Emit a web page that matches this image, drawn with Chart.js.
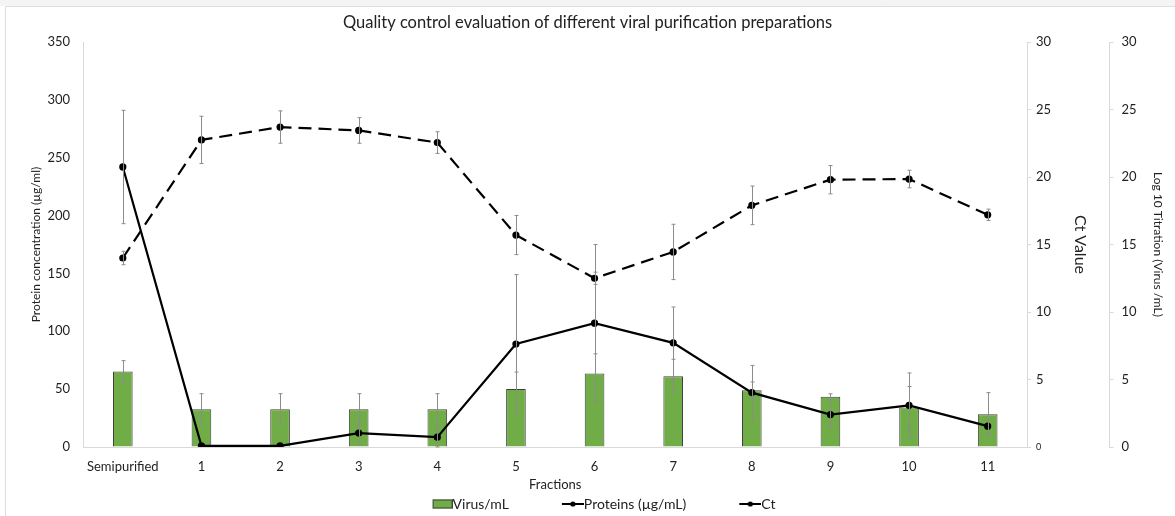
<!DOCTYPE html>
<html>
<head>
<meta charset="utf-8">
<script src="https://cdn.jsdelivr.net/npm/chart.js@4.4.0/dist/chart.umd.min.js"></script>
<style>
    html, body { margin: 0; padding: 0; background: #fff; }
    canvas { display: block; }
</style>
</head>
<body>
<canvas id="grafico" width="1175" height="516"></canvas>
<script>
var fracciones = ['Semipurified', '1', '2', '3', '4', '5', '6', '7', '8', '9', '10', '11'];

// Log 10 titration (Virus/mL) - barras
var virus = [5.6, 2.8, 2.8, 2.8, 2.8, 4.3, 5.45, 5.25, 4.2, 3.72, 2.93, 2.43];
var virusErr = [0.8, 1.15, 1.15, 1.15, 1.15, 1.25, 1.45, 1.25, 0.62, 0.22, 1.55, 1.6];

// Proteinas (ug/mL)
var proteinas = [242, 1, 1, 12, 8.5, 89, 107, 90, 47, 28, 36, 18];
var proteinasErr = [49, 0, 0, 9.8, 8.4, 60, 68, 31, 23.5, 10.6, 28, 5.8];

// Ct
var ct = [14, 22.75, 23.7, 23.45, 22.55, 15.7, 12.5, 14.45, 17.9, 19.8, 19.85, 17.2];
var ctErr = [0.5, 1.75, 1.2, 0.95, 0.8, 1.45, 0.45, 2.05, 1.43, 1.05, 0.65, 0.42];

var ticksProteina = [0, 50, 100, 150, 200, 250, 300, 350];
var ticksCt = [0, 5, 10, 15, 20, 25, 30];
var ticksLog = [0, 5, 10, 15, 20, 25, 30];

Chart.defaults.font.family = 'Lato';
Chart.defaults.color = '#222';

var ANCHO_CAJA = 46;

function iconoLeyenda(tipo) {
    var c = document.createElement('canvas');
    c.width = 60;
    c.height = 14;
    var g = c.getContext('2d');
    if (tipo === 'bar') {
        g.fillStyle = '#70ad47';
        g.fillRect(c.width - 20, 2.5, 20, 9);
        g.strokeStyle = '#404040';
        g.lineWidth = 1;
        g.strokeRect(c.width - 19.5, 3, 19, 8);
    } else {
        g.strokeStyle = '#000';
        g.lineWidth = 2;
        g.beginPath();
        g.moveTo(c.width - 22, 7);
        g.lineTo(c.width, 7);
        g.stroke();
        g.fillStyle = '#000';
        g.beginPath();
        g.arc(c.width - 11, 7, 2.6, 0, Math.PI * 2);
        g.fill();
    }
    return c;
}

var iconos = [iconoLeyenda('bar'), iconoLeyenda('line'), iconoLeyenda('line')];

// fondo y marco
var marco = {
    id: 'marco',
    beforeDraw: function (chart) {
        var ctx = chart.ctx;
        ctx.save();
        ctx.fillStyle = '#f4f4f4';
        ctx.fillRect(0, 0, chart.width, 6);
        ctx.strokeStyle = '#dedede';
        ctx.lineWidth = 1;
        ctx.beginPath();
        ctx.moveTo(5.5, chart.height);
        ctx.lineTo(5.5, 6.5);
        ctx.lineTo(chart.width, 6.5);
        ctx.stroke();
        ctx.restore();
    }
};

// barras de error
var barrasError = {
    id: 'barrasError',
    afterDatasetsDraw: function (chart) {
        var ctx = chart.ctx;
        ctx.save();
        ctx.strokeStyle = '#8c8c8c';
        ctx.lineWidth = 1;
        chart.data.datasets.forEach(function (ds, i) {
            var meta = chart.getDatasetMeta(i);
            var escala = chart.scales[ds.yAxisID];
            meta.data.forEach(function (el, j) {
                var e = ds.errores[j];
                if (!e) return;
                var x = Math.round(el.x) + 0.5;
                var y1 = escala.getPixelForValue(ds.data[j] + e);
                var y2 = escala.getPixelForValue(Math.max(escala.min, ds.data[j] - e));
                ctx.beginPath();
                ctx.moveTo(x, y1);
                ctx.lineTo(x, y2);
                ctx.moveTo(x - 2, y1);
                ctx.lineTo(x + 2, y1);
                ctx.moveTo(x - 2, y2);
                ctx.lineTo(x + 2, y2);
                ctx.stroke();
            });
        });
        ctx.restore();
    }
};

function fijarTicks(lista) {
    return function (axis) {
        axis.ticks = lista.map(function (v) { return { value: v }; });
    };
}

var ctx = document.getElementById('grafico');
new Chart(ctx, {
    type: 'bar',
    data: {
        labels: fracciones,
        datasets: [{
            type: 'bar',
            label: 'Virus/mL',
            data: virus,
            errores: virusErr,
            yAxisID: 'log',
            backgroundColor: '#70ad47',
            borderColor: '#404040',
            borderWidth: 1,
            barPercentage: 0.25,
            categoryPercentage: 1,
            order: 3
        }, {
            type: 'line',
            label: 'Proteins (µg/mL)',
            data: proteinas,
            errores: proteinasErr,
            yAxisID: 'y',
            borderColor: '#000',
            borderWidth: 2.2,
            pointRadius: 2.5,
            pointBackgroundColor: '#000',
            pointBorderColor: '#000',
            fill: false,
            tension: 0,
            order: 1
        }, {
            type: 'line',
            label: 'Ct',
            data: ct,
            errores: ctErr,
            yAxisID: 'ct',
            borderColor: '#000',
            borderWidth: 2.2,
            borderDash: [13, 7],
            pointRadius: 2.5,
            pointBackgroundColor: '#000',
            pointBorderColor: '#000',
            fill: false,
            tension: 0,
            order: 2
        }]
    },
    options: {
        responsive: false,
        animation: false,
        devicePixelRatio: 1,
        layout: { padding: { left: 0, right: 0, top: 0, bottom: -5 } },
        plugins: {
            title: {
                display: true,
                text: 'Quality control evaluation of different viral purification preparations',
                color: '#222',
                font: { size: 16.5, weight: 'normal' },
                padding: { top: 13, bottom: 9.2 }
            },
            legend: {
                position: 'bottom',
                labels: {
                    usePointStyle: true,
                    pointStyleWidth: ANCHO_CAJA,
                    padding: 22,
                    color: '#222',
                    font: { size: 14 },
                    generateLabels: function (chart) {
                        return chart.data.datasets.map(function (ds, i) {
                            return {
                                text: ds.label,
                                pointStyle: iconos[i],
                                fillStyle: 'rgba(0,0,0,0)',
                                strokeStyle: 'rgba(0,0,0,0)',
                                lineWidth: 0,
                                fontColor: '#222',
                                datasetIndex: i,
                                hidden: false
                            };
                        });
                    }
                }
            },
            tooltip: { enabled: false }
        },
        scales: {
            x: {
                grid: { display: false },
                border: { color: '#d9d9d9', width: 1 },
                ticks: { color: '#222', font: { size: 13 }, padding: 4, maxRotation: 0, autoSkip: false },
                title: { display: true, text: 'Fractions', color: '#222', font: { size: 13 }, padding: { top: 0, bottom: -17.8 } },
                afterFit: function (s) { s.height = 28; }
            },
            y: {
                position: 'left',
                min: 0,
                max: 350,
                afterBuildTicks: fijarTicks(ticksProteina),
                grid: { display: false },
                border: { color: '#d9d9d9', width: 1 },
                ticks: { color: '#222', font: { size: 13 }, padding: 5.5 },
                title: { display: true, text: 'Protein concentration (µg/ml)', color: '#222', font: { size: 12 }, padding: { top: 29.3, bottom: 0 } },
                afterFit: function (s) { s.width = 83.5; }
            },
            ct: {
                position: 'right',
                min: 0,
                max: 30,
                afterBuildTicks: fijarTicks(ticksCt),
                grid: { display: true, drawOnChartArea: false, tickLength: 4, color: '#d9d9d9' },
                border: { color: '#d9d9d9', width: 1 },
                ticks: {
                    color: '#222',
                    padding: 5,
                    font: function (c) { return { size: (c.tick && c.tick.value === 0) ? 9 : 13 }; }
                },
                title: { display: true, text: 'Ct Value', color: '#222', font: { size: 16 }, padding: { top: 20, bottom: 0 } },
                afterFit: function (s) { s.width = 82.5; }
            },
            log: {
                position: 'right',
                min: 0,
                max: 30,
                afterBuildTicks: fijarTicks(ticksLog),
                grid: { display: true, drawOnChartArea: false, tickLength: 4, color: '#d9d9d9' },
                border: { color: '#d9d9d9', width: 1 },
                ticks: { color: '#222', font: { size: 13 }, padding: 8 },
                title: { display: true, text: 'Log 10 Titration (Virus /mL)', color: '#222', font: { size: 12 }, padding: { top: 9.8, bottom: 0 } },
                afterFit: function (s) { s.width = 65.5; }
            }
        }
    },
    plugins: [marco, barrasError]
});
</script>
</body>
</html>
